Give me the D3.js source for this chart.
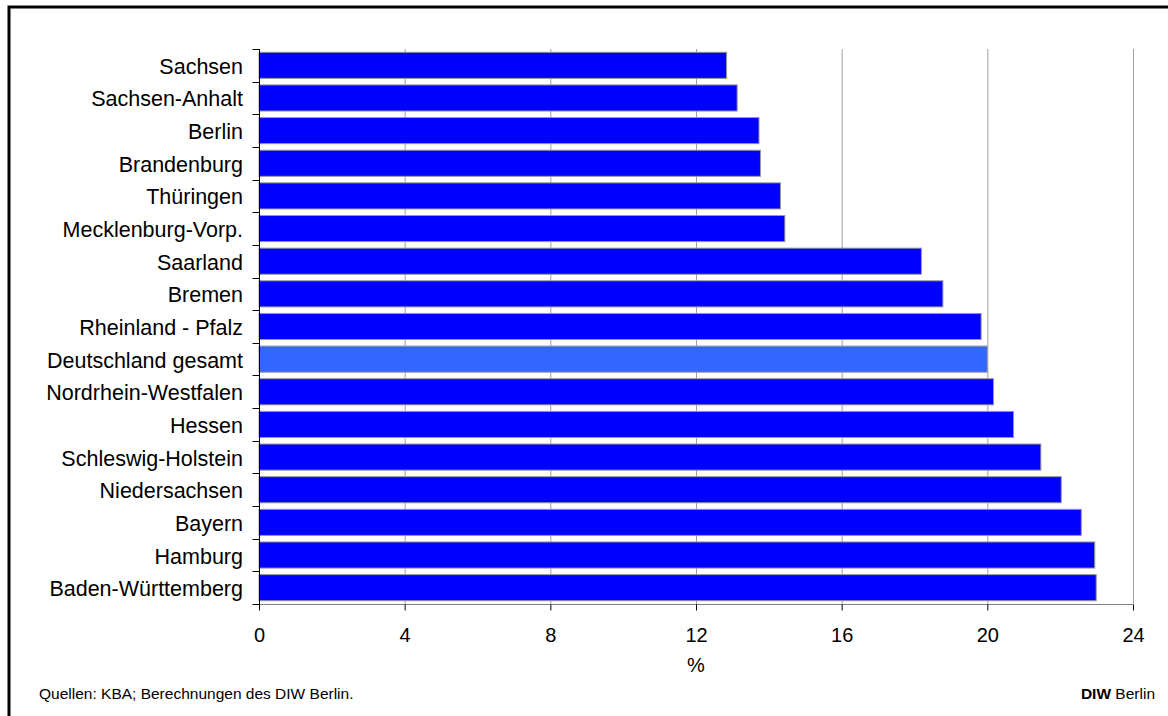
<!DOCTYPE html>
<html><head><meta charset="utf-8">
<script src="https://cdn.jsdelivr.net/npm/d3@7"></script>
<style>
body{margin:0;background:#fff;}
svg{display:block;font-family:Arial,"Liberation Sans",sans-serif;}
</style></head>
<body>
<svg id="c" width="1168" height="716"></svg>
<script>
const categories = ["Sachsen","Sachsen-Anhalt","Berlin","Brandenburg","Thüringen","Mecklenburg-Vorp.","Saarland","Bremen","Rheinland - Pfalz","Deutschland gesamt","Nordrhein-Westfalen","Hessen","Schleswig-Holstein","Niedersachsen","Bayern","Hamburg","Baden-Württemberg"];
const values = [12.84,13.13,13.73,13.77,14.32,14.44,18.19,18.78,19.83,20.0,20.17,20.72,21.47,22.03,22.58,22.95,22.99];
const xTicks = [0,4,8,12,16,20,24];
const highlight = "Deutschland gesamt";

const svg = d3.select("#c");
const L = 259, R = 1133, T = 49, B = 604;

// outer frame
svg.append("rect").attr("x",9).attr("y",7).attr("width",1170).attr("height",720)
  .attr("fill","none").attr("stroke","#000").attr("stroke-width",3);

const x = d3.scaleLinear().domain([0,24]).range([L,R]);
const y = d3.scaleBand().domain(categories).range([T,B]).paddingInner(0.2).paddingOuter(0.1);

// gridlines
svg.append("g").selectAll("line").data(xTicks.slice(1)).join("line")
  .attr("x1",d=>x(d)+0.5).attr("x2",d=>x(d)+0.5).attr("y1",T).attr("y2",B)
  .attr("stroke","#a0a0a0").attr("stroke-width",1);

// bars
svg.append("g").selectAll("rect").data(categories).join("rect")
  .attr("x",L).attr("y",d=>y(d)).attr("width",(d,i)=>x(values[i])-L).attr("height",y.bandwidth())
  .attr("fill",d=>d===highlight?"#3366ff":"#0000ff").attr("stroke","#999").attr("stroke-width",1);

// x axis
const xa = svg.append("g").attr("transform",`translate(0,${B+0.5})`)
  .call(d3.axisBottom(x).tickValues(xTicks).tickSize(6).tickPadding(0).tickFormat(d3.format("d")));
xa.select(".domain").attr("stroke","#808080").attr("d",`M${L-6},0H${R}`);
xa.selectAll(".tick line").attr("stroke","#000");
xa.selectAll("text").attr("font-size",20).attr("fill","#000").attr("dy",null).attr("y",37.5)
  .attr("font-family","Arial,'Liberation Sans',sans-serif");

// y axis
const yTickPos = categories.map(c=>y(c)-y.step()*y.paddingInner()/2);
const ya = svg.append("g").attr("transform",`translate(${L+0.5},0)`);
ya.append("line").attr("x1",0).attr("x2",0).attr("y1",T).attr("y2",B+6).attr("stroke","#000");
ya.selectAll("line.tk").data(yTickPos.concat([B])).join("line").attr("class","tk")
  .attr("x1",-7).attr("x2",0).attr("y1",d=>Math.round(d)+0.5).attr("y2",d=>Math.round(d)+0.5).attr("stroke","#000");
svg.append("g").selectAll("text").data(categories).join("text")
  .attr("x",243).attr("y",d=>y(d)+y.bandwidth()/2+8.5)
  .attr("text-anchor","end").attr("font-size",21.5).attr("fill","#000").text(d=>d);

// axis title
svg.append("text").attr("x",(x(11)+x(13))/2).attr("y",672).attr("text-anchor","middle").attr("font-size",20).text("%");

// footer
svg.append("text").attr("x",39).attr("y",699).attr("font-size",15.5).text("Quellen: KBA; Berechnungen des DIW Berlin.");
const ft = svg.append("text").attr("x",1155).attr("y",699).attr("font-size",15.5).attr("text-anchor","end");
ft.append("tspan").attr("font-weight","bold").text("DIW");
ft.append("tspan").text(" Berlin");
</script>
</body></html>
